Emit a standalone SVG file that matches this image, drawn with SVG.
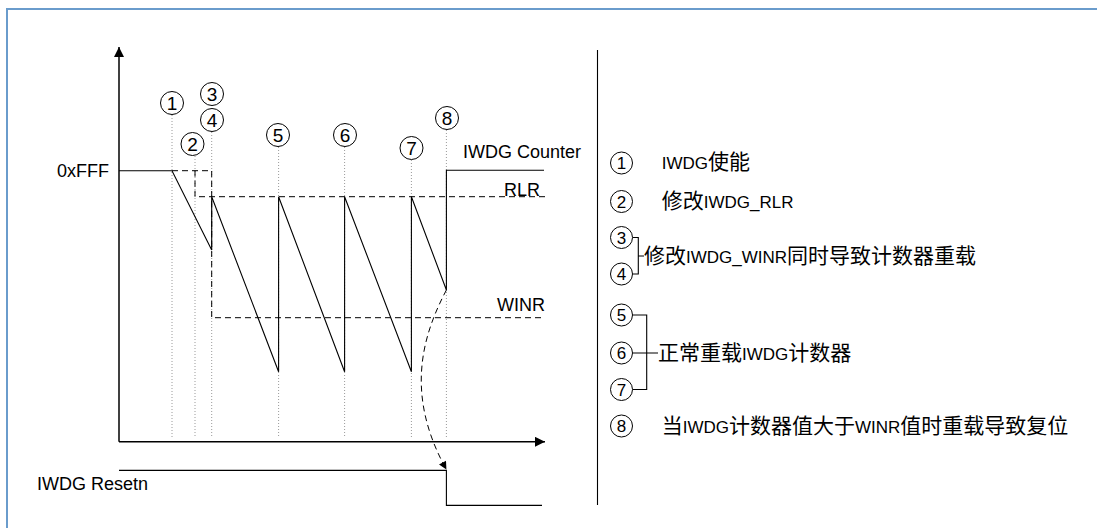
<svg xmlns="http://www.w3.org/2000/svg" width="1097" height="528" viewBox="0 0 1097 528">
<style>
.lbl{font-family:"Liberation Sans","Noto Sans CJK SC",sans-serif;font-size:18px;fill:#000}
.num{font-family:"Liberation Sans",sans-serif;font-size:19px;text-anchor:middle;fill:#000}
.lnum{font-family:"Liberation Sans",sans-serif;font-size:17px;text-anchor:middle;fill:#000}
.leg{font-family:"Liberation Sans","Noto Sans CJK SC",sans-serif;font-size:17px;fill:#000}
.cjk{font-family:"Noto Sans CJK SC",sans-serif;font-size:21px}
.circ{fill:#fff;stroke:#000;stroke-width:1}
.dot{stroke:#9a9a9a;stroke-width:1;stroke-dasharray:1 2;fill:none}
.dash{stroke:#000;stroke-width:1;stroke-dasharray:6 4;fill:none}
.solid{stroke:#000;stroke-width:1.1;fill:none}
.axis{stroke:#000;stroke-width:1.5;fill:none}
</style>
<defs>
<marker id="ah" viewBox="0 0 10 10" refX="10" refY="5" markerWidth="11" markerHeight="10" markerUnits="userSpaceOnUse" orient="auto"><path d="M0,0 L10,5 L0,10 z" fill="#000"/></marker>
<marker id="ahs" viewBox="0 0 10 10" refX="10" refY="5" markerWidth="10" markerHeight="8" markerUnits="userSpaceOnUse" orient="auto"><path d="M0,0 L10,5 L0,10 z" fill="#000"/></marker>
</defs>
<rect width="1097" height="528" fill="#fff"/>
<path d="M7,528 V9 H1097" fill="none" stroke="#6a9ccc" stroke-width="2"/>

<g id="guides">
<line class="dot" x1="172" y1="115" x2="172" y2="438"/>
<line class="dot" x1="195" y1="156" x2="195" y2="438"/>
<line class="dot" x1="211.7" y1="132" x2="211.7" y2="438"/>
<line class="dot" x1="278.6" y1="147" x2="278.6" y2="438"/>
<line class="dot" x1="344.6" y1="147" x2="344.6" y2="438"/>
<line class="dot" x1="411.4" y1="160" x2="411.4" y2="438"/>
<line class="dot" x1="446.4" y1="130" x2="446.4" y2="438"/>
</g>

<g id="connectors">
<line class="axis" x1="119" y1="441.8" x2="119" y2="47" marker-end="url(#ah)"/>
<line class="axis" x1="119" y1="441.8" x2="545" y2="441.8" marker-end="url(#ah)"/>
<path class="dash" d="M172,170.7 H211.7 V317.7 H545"/>
<path class="dash" d="M195,170.7 V196.7 H545"/>
<path class="solid" d="M119,170.7 H172 L211.7,250 V196.7 L278.6,371.7 V196.7 L344.6,371.7 V196.7 L411.4,371.7 V196.7 L446.4,290 V170.3 H544"/>
<path class="solid" d="M119,470.4 H446.4 V505.4 H542"/>
<path class="dash" d="M446.4,290 C421.4,337.5 405.3,395.5 446.4,469.6" stroke-dasharray="4 3" marker-end="url(#ahs)"/>
<line class="solid" x1="597.5" y1="50" x2="597.5" y2="505"/>
<path class="solid" d="M632.5,237.5 H638.3 V274 H632.5 M638.3,256 H644"/>
<path class="solid" d="M632.5,315 H646.7 V389.5 H632.5 M632.5,353 H658"/>
</g>

<g id="labels">
<text class="lbl" x="57" y="177" font-size="16">0xFFF</text>
<text class="lbl" x="463" y="158">IWDG Counter</text>
<text class="lbl" x="540" y="196" text-anchor="end">RLR</text>
<text class="lbl" x="545" y="311" text-anchor="end">WINR</text>
<text class="lbl" x="37" y="490">IWDG Resetn</text>
</g>

<g id="markers-chart">
<g id="m1"><circle class="circ" cx="172" cy="103" r="11.5"/><text class="num" x="172" y="109.8">1</text></g>
<g id="m2"><circle class="circ" cx="192.5" cy="144" r="11.5"/><text class="num" x="192.5" y="150.8">2</text></g>
<g id="m3"><circle class="circ" cx="212" cy="94" r="11.5"/><text class="num" x="212" y="100.8">3</text></g>
<g id="m4"><circle class="circ" cx="212" cy="120" r="11.5"/><text class="num" x="212" y="126.8">4</text></g>
<g id="m5"><circle class="circ" cx="278" cy="135" r="11.5"/><text class="num" x="278" y="141.8">5</text></g>
<g id="m6"><circle class="circ" cx="345" cy="135" r="11.5"/><text class="num" x="345" y="141.8">6</text></g>
<g id="m7"><circle class="circ" cx="411.5" cy="148" r="11.5"/><text class="num" x="411.5" y="154.8">7</text></g>
<g id="m8"><circle class="circ" cx="447" cy="118" r="11.5"/><text class="num" x="447" y="124.8">8</text></g>
</g>

<g id="legend">
<g id="l1"><circle class="circ" cx="621.5" cy="163" r="11"/><text class="lnum" x="621.5" y="169.1">1</text>
<text class="leg" x="661.7" y="168.5">IWDG<tspan class="cjk">使能</tspan></text></g>
<g id="l2"><circle class="circ" cx="621.5" cy="201.5" r="11"/><text class="lnum" x="621.5" y="207.6">2</text>
<text class="leg" x="661.7" y="207.5"><tspan class="cjk">修改</tspan>IWDG_RLR</text></g>
<g id="l34"><circle class="circ" cx="621.5" cy="237.5" r="11"/><text class="lnum" x="621.5" y="243.6">3</text>
<circle class="circ" cx="621.5" cy="274" r="11"/><text class="lnum" x="621.5" y="280.1">4</text>
<text class="leg" x="644" y="262.5"><tspan class="cjk">修改</tspan>IWDG_WINR<tspan class="cjk">同时导致计数器重载</tspan></text></g>
<g id="l567"><circle class="circ" cx="621.5" cy="315" r="11"/><text class="lnum" x="621.5" y="321.1">5</text>
<circle class="circ" cx="621.5" cy="353" r="11"/><text class="lnum" x="621.5" y="359.1">6</text>
<circle class="circ" cx="621.5" cy="389.5" r="11"/><text class="lnum" x="621.5" y="395.6">7</text>
<text class="leg" x="658" y="359.5"><tspan class="cjk">正常重载</tspan>IWDG<tspan class="cjk">计数器</tspan></text></g>
<g id="l8"><circle class="circ" cx="621.5" cy="426" r="11"/><text class="lnum" x="621.5" y="432.1">8</text>
<text class="leg" x="661.7" y="432.5"><tspan class="cjk">当</tspan>IWDG<tspan class="cjk">计数器值大于</tspan>WINR<tspan class="cjk">值时重载导致复位</tspan></text></g>
</g>
</svg>
